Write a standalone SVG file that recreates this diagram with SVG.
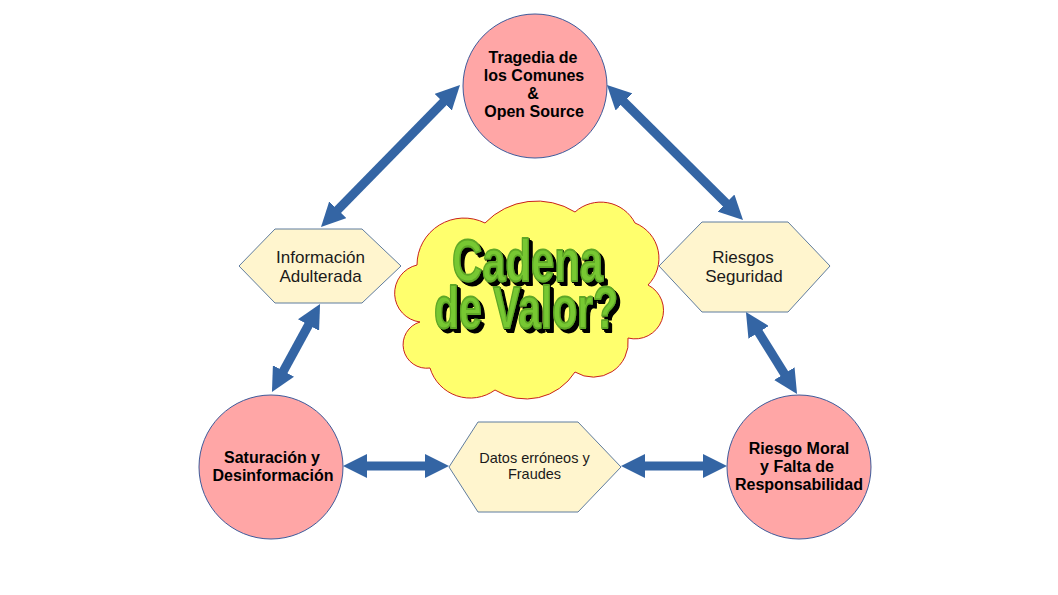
<svg xmlns="http://www.w3.org/2000/svg" width="1058" height="595" viewBox="0 0 1058 595">
<style>
.circ{fill:#ffa6a6;stroke:#3e5a9a;stroke-width:1}
.hex{fill:#fff5ce;stroke:#5f7c9e;stroke-width:1}
.bt{font-family:"Liberation Sans",Arial,sans-serif;font-weight:bold;font-size:16px;fill:#000;text-anchor:middle}
.rt{font-family:"Liberation Sans",Arial,sans-serif;font-size:17px;fill:#1a1a1a;text-anchor:middle}
.st{font-family:"Liberation Sans",Arial,sans-serif;font-size:14.5px;fill:#1a1a1a;text-anchor:middle}
.arr{stroke:#3465a4;stroke-width:9;fill:none;marker-start:url(#ah);marker-end:url(#ah)}
.big{font-family:"Liberation Sans",Arial,sans-serif;font-weight:bold;font-size:60px;fill:#77c831;stroke:#5fa828;stroke-width:1.8;stroke-linejoin:round;filter:url(#ext)}
</style>
<defs>
<marker id="ah" viewBox="0 0 24 24" markerWidth="24" markerHeight="24" refX="12" refY="12" markerUnits="userSpaceOnUse" orient="auto-start-reverse">
<path d="M0,0 L24,12 L0,24 z" fill="#3465a4"/>
</marker>
<filter id="ext" x="-10%" y="-20%" width="130%" height="150%">
<feOffset in="SourceAlpha" dx="1.3" dy="1.3" result="o1"/>
<feOffset in="SourceAlpha" dx="2.6" dy="2.6" result="o2"/>
<feOffset in="SourceAlpha" dx="3.8" dy="3.8" result="o3"/>
<feMerge><feMergeNode in="o3"/><feMergeNode in="o2"/><feMergeNode in="o1"/><feMergeNode in="SourceGraphic"/></feMerge>
</filter>
</defs>
<rect width="1058" height="595" fill="#ffffff"/>
<g id="connectors">
<line class="arr" x1="329.4" y1="218.4" x2="451.6" y2="93.6"/>
<line class="arr" x1="615.5" y1="93.5" x2="734.5" y2="211.5"/>
<line class="arr" x1="314.3" y1="314.5" x2="277.7" y2="381.5"/>
<line class="arr" x1="752.3" y1="322.2" x2="790.7" y2="383.8"/>
<line class="arr" x1="355" y1="466" x2="437" y2="466"/>
<line class="arr" x1="633" y1="466" x2="715" y2="466"/>
</g>
<g id="cloud">
<path d="M417,265 A47,47 0 0 1 485,223 A72,72 0 0 1 575,212 A38.5,38.5 0 0 1 635,223 A38,38 0 0 1 648,285 A28.5,28.5 0 0 1 628,338 A35,35 0 0 1 575,372 A58,58 0 0 1 495,390 A42,42 0 0 1 430,368 A23.6,23.6 0 0 1 420,322 A29,29 0 0 1 417,265 Z" fill="#ffff6d" stroke="#c9211e" stroke-width="1"/>
<text class="big" x="452" y="281" textLength="151" lengthAdjust="spacingAndGlyphs">Cadena</text>
<text class="big" x="434" y="328" textLength="184" lengthAdjust="spacingAndGlyphs">de Valor?</text>
</g>
<g id="tragedia">
<circle class="circ" cx="535" cy="86" r="72"/>
<text class="bt" x="533" y="63">Tragedia de</text>
<text class="bt" x="534" y="81">los Comunes</text>
<text class="bt" x="533" y="99">&amp;</text>
<text class="bt" x="534" y="117">Open Source</text>
</g>
<g id="saturacion">
<circle class="circ" cx="271" cy="467" r="72"/>
<text class="bt" x="272" y="463">Saturación y</text>
<text class="bt" x="273" y="481">Desinformación</text>
</g>
<g id="riesgo-moral">
<circle class="circ" cx="799" cy="467" r="72"/>
<text class="bt" x="799" y="454">Riesgo Moral</text>
<text class="bt" x="797" y="472">y Falta de</text>
<text class="bt" x="799" y="490">Responsabilidad</text>
</g>
<g id="informacion">
<polygon class="hex" points="239,266 275,229 362,229 401,266 362,303 275,303"/>
<text class="rt" x="320.5" y="263">Información</text>
<text class="rt" x="320.5" y="282">Adulterada</text>
</g>
<g id="riesgos">
<polygon class="hex" points="659,266 702,222 788,222 830,266 788,312 702,312"/>
<text class="rt" x="743" y="263">Riesgos</text>
<text class="rt" x="744" y="282">Seguridad</text>
</g>
<g id="datos">
<polygon class="hex" points="449,467 478,422 578,422 621,467 578,512 478,512"/>
<text class="st" x="534.5" y="463">Datos erróneos y</text>
<text class="st" x="534.5" y="479">Fraudes</text>
</g>
</svg>
